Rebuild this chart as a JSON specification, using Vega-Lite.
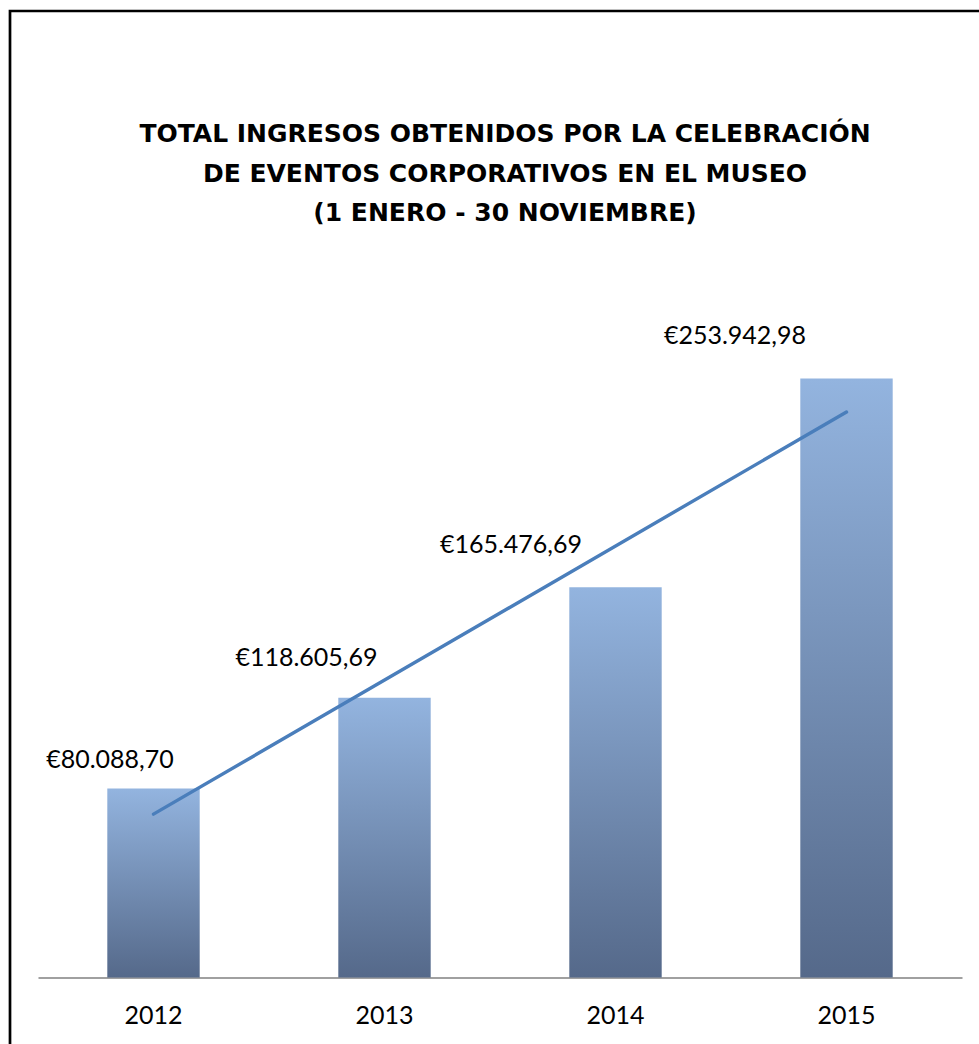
{
  "$schema": "https://vega.github.io/schema/vega-lite/v6.json",
  "width": 990,
  "height": 1050,
  "autosize": "none",
  "padding": {"left": 10, "top": 11, "right": 0, "bottom": 0},
  "background": "#ffffff",
  "config": {
    "view": {"stroke": "#000000", "strokeWidth": 2.7},
    "locale": {"number": {"decimal": ",", "thousands": ".", "grouping": [3], "currency": ["€", ""]}},
    "font": "Lato"
  },
  "title": {
    "text": ["TOTAL INGRESOS OBTENIDOS POR LA CELEBRACIÓN", "DE EVENTOS CORPORATIVOS EN EL MUSEO", "(1 ENERO - 30 NOVIEMBRE)"],
    "anchor": "middle",
    "frame": "group",
    "offset": -215,
    "font": "DejaVu Sans",
    "fontSize": 25,
    "fontWeight": "bold",
    "lineHeight": 39.5,
    "color": "#000000"
  },
  "data": {
    "values": [
      {"year": 2012, "value": 80088.70},
      {"year": 2013, "value": 118605.69},
      {"year": 2014, "value": 165476.69},
      {"year": 2015, "value": 253942.98}
    ]
  },
  "encoding": {
    "x": {
      "field": "year",
      "type": "ordinal",
      "scale": {"range": [28, 952], "paddingInner": 0.6, "paddingOuter": 0.3},
      "axis": {
        "title": null,
        "orient": "bottom",
        "offset": -83.5,
        "ticks": false,
        "domainColor": "#a0a0a0",
        "domainWidth": 2,
        "labelAngle": 0,
        "labelFont": "Lato",
        "labelFontSize": 25,
        "labelColor": "#000000",
        "labelPadding": 26
      }
    },
    "y": {
      "field": "value",
      "type": "quantitative",
      "scale": {"domain": [0, 300000], "range": [966.5, 259]},
      "axis": null
    }
  },
  "layer": [
    {
      "mark": {
        "type": "bar",
        "color": {
          "gradient": "linear",
          "x1": 0, "y1": 0, "x2": 0, "y2": 1,
          "stops": [
            {"offset": 0, "color": "#93b4df"},
            {"offset": 1, "color": "#55698a"}
          ]
        }
      }
    },
    {
      "transform": [{"regression": "value", "on": "year", "method": "linear"}],
      "mark": {"type": "line", "color": "#4a7ebb", "strokeWidth": 3.4, "strokeCap": "round"}
    },
    {
      "transform": [{"filter": "datum.year == 2012"}],
      "mark": {"type": "text", "font": "Lato", "fontSize": 25, "color": "#000000", "dx": -43.5, "dy": -29, "baseline": "middle"},
      "encoding": {"text": {"field": "value", "type": "quantitative", "format": "$,.2f"}}
    },
    {
      "transform": [{"filter": "datum.year == 2013"}],
      "mark": {"type": "text", "font": "Lato", "fontSize": 25, "color": "#000000", "dx": -78, "dy": -40, "baseline": "middle"},
      "encoding": {"text": {"field": "value", "type": "quantitative", "format": "$,.2f"}}
    },
    {
      "transform": [{"filter": "datum.year == 2014"}],
      "mark": {"type": "text", "font": "Lato", "fontSize": 25, "color": "#000000", "dx": -104.5, "dy": -42, "baseline": "middle"},
      "encoding": {"text": {"field": "value", "type": "quantitative", "format": "$,.2f"}}
    },
    {
      "transform": [{"filter": "datum.year == 2015"}],
      "mark": {"type": "text", "font": "Lato", "fontSize": 25, "color": "#000000", "dx": -111.5, "dy": -43, "baseline": "middle"},
      "encoding": {"text": {"field": "value", "type": "quantitative", "format": "$,.2f"}}
    }
  ]
}
